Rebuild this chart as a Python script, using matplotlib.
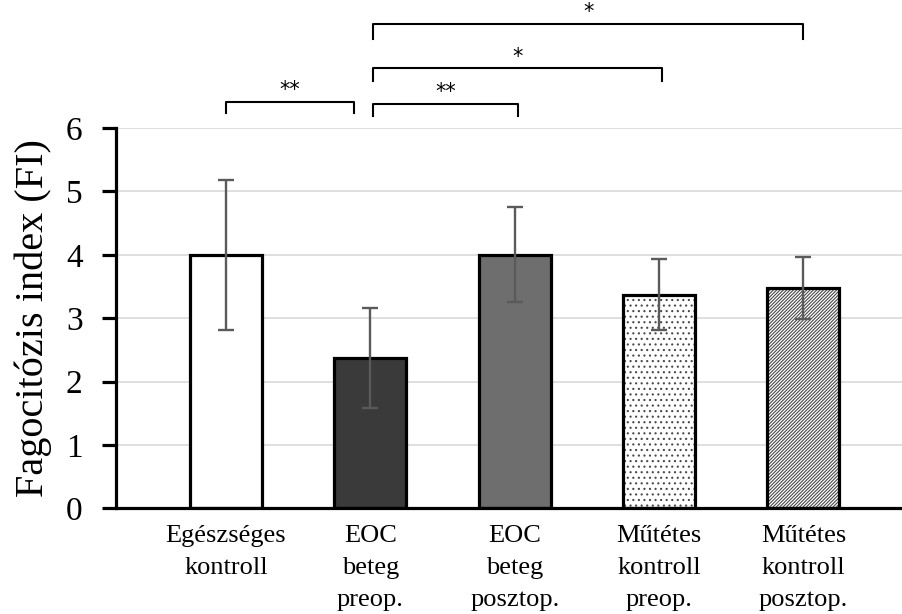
import matplotlib
matplotlib.use("Agg")
import matplotlib.pyplot as plt
import numpy as np

# Phagocytosis index by group: mean and error (SD)
categories = ["Egészséges\nkontroll", "EOC\nbeteg\npreop.", "EOC\nbeteg\nposztop.",
              "Műtétes\nkontroll\npreop.", "Műtétes\nkontroll\nposztop."]
means = [4.00, 2.37, 4.00, 3.37, 3.47]
errors = [1.18, 0.79, 0.75, 0.56, 0.49]
y_ticks = [0, 1, 2, 3, 4, 5, 6]

# Significance brackets: (from group, to group, label)
brackets = [(0, 1, "**"), (1, 2, "**"), (1, 3, "*"), (1, 4, "*")]

face_colors = ["white", "#3a3a3a", "#6e6e6e", "white", "white"]
hatches = [None, None, None, "...", "//////////"]

plt.rcParams["font.family"] = ["Liberation Serif", "DejaVu Serif"]
plt.rcParams["hatch.linewidth"] = 0.8

fig = plt.figure(figsize=(9.03, 6.14), dpi=100)
ax = fig.add_axes([0.1285, 0.172, 0.8715, 0.6195])

x = np.arange(len(categories))
width = 0.5

# fill (with pattern in gray), then black outline on top
for i in range(len(categories)):
    if hatches[i]:
        ax.bar(x[i], means[i], width, color="white", edgecolor="#4a4a4a",
               hatch=hatches[i], linewidth=0, zorder=2)
    else:
        ax.bar(x[i], means[i], width, color=face_colors[i], linewidth=0, zorder=2)
ax.bar(x, means, width, fill=False, edgecolor="black", linewidth=2.3, zorder=3)

ax.errorbar(x, means, yerr=errors, fmt="none", ecolor="#5a5a5a",
            elinewidth=1.7, capsize=6, capthick=1.7, zorder=4)

ax.set_ylim(0, 6)
ax.set_xlim(-0.762, 4.69)
ax.set_yticks(y_ticks)
ax.set_yticklabels([str(v) for v in y_ticks], fontsize=24)
ax.set_xticks(x)
ax.set_xticklabels(categories, fontsize=19, linespacing=1.6)

ax.yaxis.grid(True, color="#d9d9d9", linewidth=1.2, zorder=0)
ax.set_axisbelow(True)

for side in ("top", "right"):
    ax.spines[side].set_visible(False)
for side in ("left", "bottom"):
    ax.spines[side].set_linewidth(2.3)
    ax.spines[side].set_color("black")

ax.tick_params(axis="y", direction="out", length=10, width=2.3, pad=14)
ax.tick_params(axis="x", length=0, pad=12)

ax.set_ylabel("Fagocitózis index (FI)", fontsize=29)
ax.yaxis.set_label_coords(-0.082, 0.5)

# significance brackets drawn above the plotting area
bracket_levels = [(6.41, 6.24), (6.38, 6.19), (6.94, 6.74), (7.64, 7.40)]
bracket_offsets = [(0.0, -0.113), (0.02, 0.02), (0.02, 0.02), (0.02, 0.0)]
for (a, b, lab), (top, low), (da, db) in zip(brackets, bracket_levels, bracket_offsets):
    xa, xb = x[a] + da, x[b] + db
    ax.plot([xa, xa, xb, xb], [low, top, top, low], color="black",
            linewidth=1.5, clip_on=False, zorder=5)
    ax.text((xa + xb) / 2, top + 0.03, lab, ha="center", va="bottom",
            fontsize=15, family="DejaVu Sans", clip_on=False)

fig.savefig("out.png", dpi=100)
